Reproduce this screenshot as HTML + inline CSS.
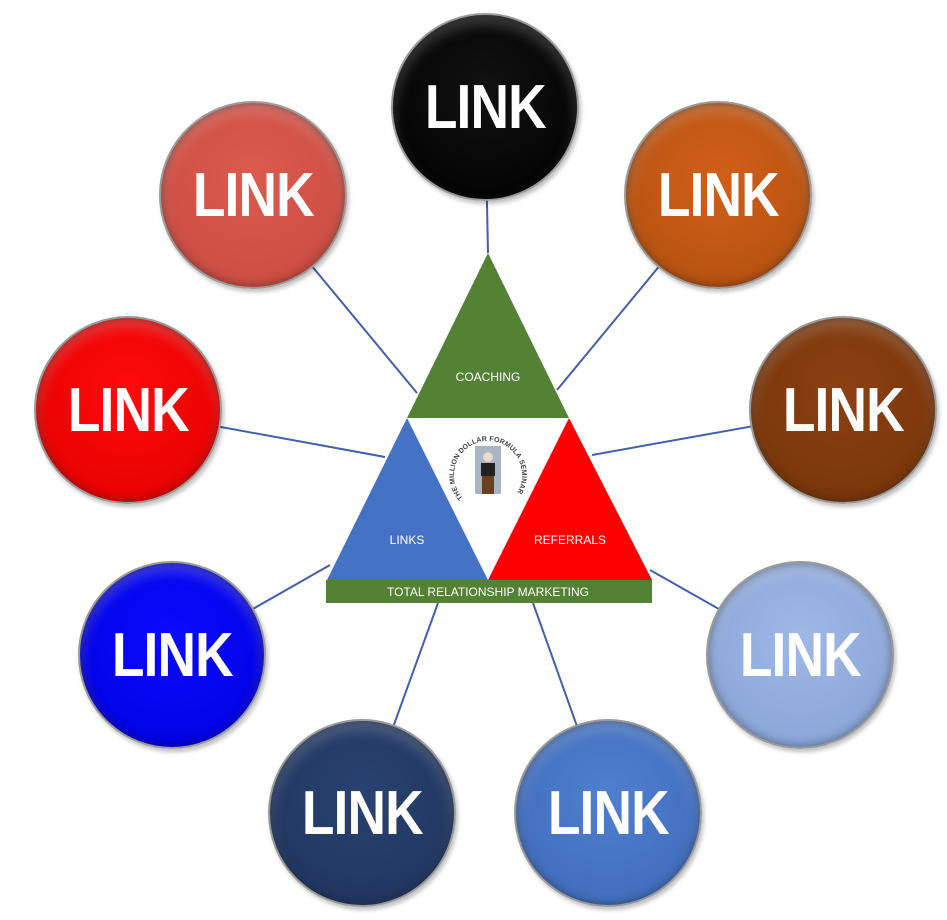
<!DOCTYPE html>
<html><head><style>
body{margin:0;background:#fff;width:947px;height:920px;overflow:hidden;position:relative;font-family:"Liberation Sans",sans-serif}
.c{position:absolute;width:188px;height:188px;border-radius:50%;border:2px solid #9a9a9a;box-sizing:border-box;display:flex;align-items:center;justify-content:center;color:#fff;font-weight:bold;font-size:62px;letter-spacing:-1px;box-shadow:inset 0 0 10px rgba(0,0,0,.45),inset 0 8px 14px rgba(255,255,255,.25),2px 3px 4px rgba(0,0,0,.25)}
.c span{display:inline-block;transform:scaleX(.86)}
</style></head><body>
<svg width="947" height="920" style="position:absolute;left:0;top:0">
<g stroke="#4060a8" stroke-width="2">
<line x1="485" y1="107" x2="488" y2="253"/>
<line x1="253" y1="195" x2="417" y2="393"/>
<line x1="718" y1="195" x2="557" y2="390"/>
<line x1="128" y1="410" x2="385" y2="457"/>
<line x1="843" y1="410" x2="592" y2="455"/>
<line x1="172" y1="655" x2="330" y2="565"/>
<line x1="800" y1="655" x2="650" y2="570"/>
<line x1="362" y1="813" x2="438" y2="603"/>
<line x1="608" y1="813" x2="533" y2="603"/>
</g>
<polygon points="488,253 407,418 569,418" fill="#548235"/>
<polygon points="407,418 327,580 488,580" fill="#4472c4"/>
<polygon points="569,418 488,580 652,580" fill="#ff0000"/>
<rect x="326" y="580" width="326" height="23" fill="#548235"/>
<g font-family="Liberation Sans,sans-serif" fill="#fff" font-size="12" text-anchor="middle">
<text x="488" y="381">COACHING</text>
<text x="407" y="544">LINKS</text>
<text x="570" y="544">REFERRALS</text>
<text x="488" y="596">TOTAL RELATIONSHIP MARKETING</text>
</g>
<path id="arc" d="M463,498 A34,34 0 1,1 513,498" fill="none"/>
<text font-size="7" font-weight="bold" fill="#444" font-family="Liberation Sans,sans-serif" textLength="150"><textPath href="#arc">THE MILLION DOLLAR FORMULA SEMINAR</textPath></text>
<rect x="475" y="446" width="26" height="48" fill="#a8b4c4"/>
<circle cx="488" cy="457" r="5" fill="#e8d8c8"/>
<rect x="481" y="463" width="14" height="13" fill="#222"/>
<rect x="482" y="476" width="12" height="18" fill="#6b4020"/>
</svg>
<div class="c" style="left:391px;top:13px;background:radial-gradient(circle at 50% 40%,#111,#000)"><span>LINK</span></div>
<div class="c" style="left:624px;top:101px;background:radial-gradient(circle at 50% 40%,#d0601a,#b04e0e)"><span>LINK</span></div>
<div class="c" style="left:159px;top:101px;background:radial-gradient(circle at 50% 40%,#dc5a4e,#c84a40)"><span>LINK</span></div>
<div class="c" style="left:34px;top:316px;background:radial-gradient(circle at 50% 40%,#ff0a0a,#e00000)"><span>LINK</span></div>
<div class="c" style="left:749px;top:316px;background:radial-gradient(circle at 50% 40%,#8c4012,#743408)"><span>LINK</span></div>
<div class="c" style="left:78px;top:561px;background:radial-gradient(circle at 50% 40%,#0a0aff,#0000dd)"><span>LINK</span></div>
<div class="c" style="left:706px;top:561px;background:radial-gradient(circle at 50% 40%,#9fb8e6,#84a0d4)"><span>LINK</span></div>
<div class="c" style="left:268px;top:719px;background:radial-gradient(circle at 50% 40%,#2a4270,#1e335c)"><span>LINK</span></div>
<div class="c" style="left:514px;top:719px;background:radial-gradient(circle at 50% 40%,#4f7fd0,#3d69b8)"><span>LINK</span></div>
</body></html>
